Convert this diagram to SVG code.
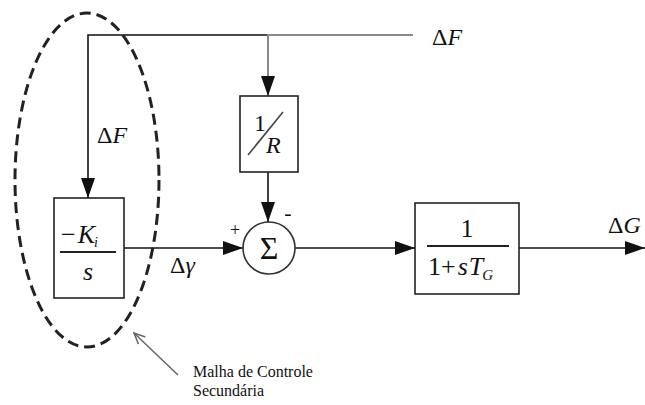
<svg xmlns="http://www.w3.org/2000/svg" width="645" height="405" viewBox="0 0 645 405">
<style>
.ln{fill:none;stroke:#111;stroke-width:1.6}
.gr{fill:none;stroke:#888;stroke-width:2}
.box{fill:#fff;stroke:#222;stroke-width:1.6}
.r{font-family:"Liberation Serif","Times New Roman",serif;fill:#111}
.m{font-family:"Liberation Serif","Times New Roman",serif;font-style:italic;fill:#111}
</style>
<defs>
<marker id="ah" viewBox="0 0 20 14" refX="20" refY="7" markerWidth="20" markerHeight="14" markerUnits="userSpaceOnUse" orient="auto">
<path d="M0,0 L20,7 L0,14 Z" fill="#111"/>
</marker>
<marker id="oa" viewBox="0 0 12 12" refX="11" refY="6" markerWidth="12" markerHeight="12" markerUnits="userSpaceOnUse" orient="auto">
<path d="M0,1 L11,6 L0,11" fill="none" stroke="#666" stroke-width="1.5"/>
</marker>
</defs>
<g id="connectors">
<path class="ln" d="M268,35 H88 V198" marker-end="url(#ah)"/>
<path class="gr" d="M413,35 H268 V96" marker-end="url(#ah)"/>
<path class="ln" d="M268,172 V222" marker-end="url(#ah)"/>
<path class="ln" d="M124,248 H243" marker-end="url(#ah)"/>
<path class="ln" d="M295,248 H415" marker-end="url(#ah)"/>
<path class="ln" d="M519,248 H645" marker-end="url(#ah)"/>
<path d="M178,375 L134,333" fill="none" stroke="#666" stroke-width="1.5" marker-end="url(#oa)"/>
</g>
<g id="loop">
<ellipse cx="87" cy="180" rx="72" ry="167" fill="none" stroke="#222" stroke-width="3" stroke-dasharray="11,6"/>
</g>
<g id="integrator">
<rect class="box" x="54" y="198" width="70" height="100"/>
<line x1="60" y1="252" x2="116" y2="252" stroke="#222" stroke-width="2"/>
<text class="r" x="61" y="243" font-size="26">−<tspan class="m" dx="2">K</tspan><tspan class="m" font-size="14" dx="-1" dy="4">i</tspan></text>
<text class="m" x="88" y="280" font-size="26" text-anchor="middle">s</text>
</g>
<g id="droop">
<rect class="box" x="240" y="96" width="58" height="76"/>
<text class="r" x="254" y="131" font-size="24">1</text>
<line x1="248" y1="155" x2="283" y2="112" stroke="#444" stroke-width="1.6"/>
<text class="m" x="266" y="153" font-size="24">R</text>
</g>
<g id="sum">
<circle cx="269" cy="248" r="26" fill="#fff" stroke="#333" stroke-width="1.6"/>
<text class="r" x="269" y="259" font-size="32" text-anchor="middle">Σ</text>
<text class="r" x="235" y="236" font-size="18" text-anchor="middle">+</text>
<text class="r" x="288" y="220" font-size="22" text-anchor="middle">-</text>
</g>
<g id="governor">
<rect class="box" x="415" y="203" width="104" height="91"/>
<text class="r" x="467" y="237" font-size="26" text-anchor="middle">1</text>
<line x1="427" y1="246" x2="509" y2="246" stroke="#222" stroke-width="2"/>
<text class="r" x="428" y="275" font-size="26">1+<tspan class="m" dx="2">s</tspan><tspan class="m" dx="1">T</tspan><tspan class="m" font-size="15" dx="-1" dy="5">G</tspan></text>
</g>
<g id="labels">
<text class="r" x="432" y="45" font-size="24">Δ<tspan class="m">F</tspan></text>
<text class="r" x="97" y="143" font-size="24">Δ<tspan class="m">F</tspan></text>
<text class="r" x="170" y="273" font-size="24">Δ<tspan class="m">γ</tspan></text>
<text class="r" x="608" y="233" font-size="24">Δ<tspan class="m">G</tspan></text>
<text class="r" x="193" y="377" font-size="16">Malha de Controle</text>
<text class="r" x="193" y="396" font-size="16">Secundária</text>
</g>
</svg>
